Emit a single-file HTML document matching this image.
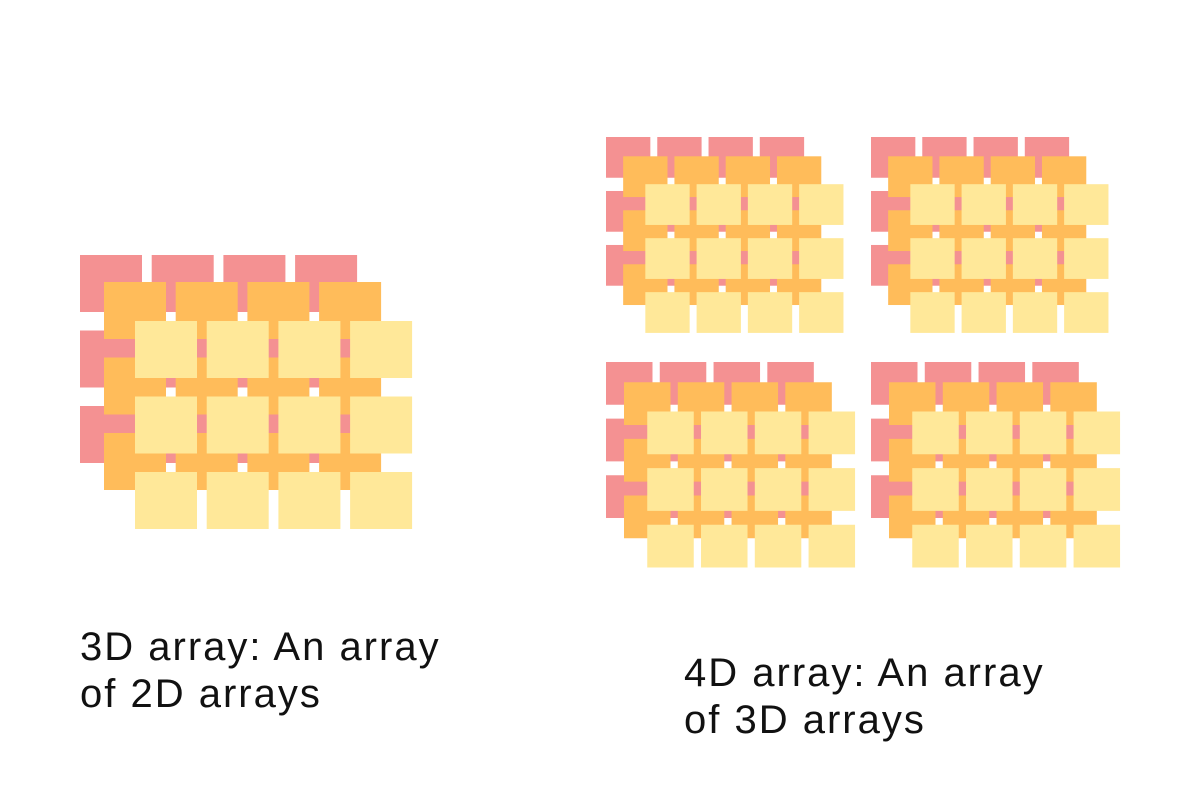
<!DOCTYPE html>
<html><head><meta charset="utf-8"><style>
body{margin:0;width:1200px;height:800px;background:#fff;position:relative;overflow:hidden;font-family:"Liberation Sans",sans-serif}
.t{position:absolute;font-size:40px;line-height:47px;letter-spacing:2px;color:#111;margin:0}
</style></head><body>
<svg id="s" width="1200" height="800" style="position:absolute;left:0;top:0"></svg>
<p class="t" style="left:80px;top:624px">3D array: An array<br>of 2D arrays</p>
<p class="t" style="left:684px;top:650px">4D array: An array<br>of 3D arrays</p>
<script>
const groups=[[80,255,1,'3d-array'],[606,137,0.715,'4d-block-1'],[871,137,0.715,'4d-block-2'],[606,362,0.75,'4d-block-3'],[871,362,0.75,'4d-block-4']];
const layers=[[0,0,'#F49192','layer-1'],[24,27,'#FFBC5A','layer-2'],[55,66,'#FFE899','layer-3']];
const svg=document.getElementById('s');
const NS='http://www.w3.org/2000/svg';
groups.forEach(g=>{
  const grp=document.createElementNS(NS,'g');
  
  
  layers.forEach(l=>{
    for(let r=0;r<3;r++)for(let c=0;c<4;c++){
      const e=document.createElementNS(NS,'rect');
      e.setAttribute('x',g[0]+(l[0]+c*71.7)*g[2]);
      e.setAttribute('y',g[1]+(l[1]+r*75.5)*g[2]);
      e.setAttribute('width',62*g[2]);
      e.setAttribute('height',57*g[2]);
      e.setAttribute('fill',l[2]);
      
      
      grp.appendChild(e);
    }
  });
  svg.appendChild(grp);
});
</script>
</body></html>
